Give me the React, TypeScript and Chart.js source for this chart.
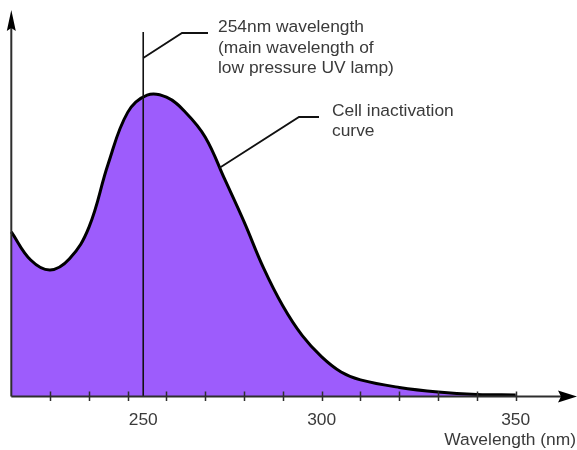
import { useEffect, useRef } from "react";
import { Chart, registerables } from "chart.js";

Chart.register(...registerables);

// Wavelength (nm)
const wavelengths = [220, 225, 230, 235, 240, 245, 250, 255, 260, 265, 270, 275, 280, 285, 290, 295, 300, 305, 310, 320, 330, 340, 350];
// Relative cell inactivation (% of peak)
const inactivation = [54.4, 45.1, 41.8, 45.5, 55.9, 77.0, 93.9, 99.6, 98.9, 93.8, 85.7, 71.8, 57.7, 42.5, 29.9, 20.1, 13.1, 8.1, 5.5, 3.0, 1.5, 0.7, 0.5];

// X-axis tick marks and labels
const tickValues = [230, 240, 250, 260, 270, 280, 290, 300, 310, 320, 330, 340, 350];
const labelPositions = [254, 300, 350];
const labelTexts = ["250", "300", "350"];

const lampWavelength = 254;
const lampText = ["254nm wavelength", "(main wavelength of", "low pressure UV lamp)"];
const curveText = ["Cell inactivation", "curve"];
const curveAnchor = { x: 273.6, y: 75.5 };
const xTitle = "Wavelength (nm)";

const FONT = '17.4px "Liberation Sans", Arial, sans-serif';
const TEXT_COLOR = "#3a3a3a";
const AXIS_COLOR = "#2e2e2e";

const overlay = {
  id: "overlay",
  afterDraw(chart: any) {
    const ctx = chart.ctx as CanvasRenderingContext2D;
    const xs = chart.scales.x;
    const ys = chart.scales.y;
    const ca = chart.chartArea;
    const baseY = ys.getPixelForValue(0);
    const left = ca.left;
    ctx.save();

    // 254nm vertical line
    const lx = xs.getPixelForValue(lampWavelength);
    ctx.strokeStyle = "#111";
    ctx.lineWidth = 1.6;
    ctx.beginPath();
    ctx.moveTo(lx, 32);
    ctx.lineTo(lx, baseY);
    ctx.stroke();

    // leader 1
    ctx.lineWidth = 1.8;
    ctx.beginPath();
    ctx.moveTo(lx, 58);
    ctx.lineTo(182, 33);
    ctx.lineTo(208, 33);
    ctx.stroke();

    // leader 2
    const cx = xs.getPixelForValue(curveAnchor.x);
    const cy = ys.getPixelForValue(curveAnchor.y);
    ctx.beginPath();
    ctx.moveTo(cx, cy);
    ctx.lineTo(299, 117);
    ctx.lineTo(319, 117);
    ctx.stroke();

    // axes
    ctx.strokeStyle = AXIS_COLOR;
    ctx.fillStyle = AXIS_COLOR;
    ctx.lineWidth = 2;
    ctx.beginPath();
    ctx.moveTo(left, baseY);
    ctx.lineTo(566, baseY);
    ctx.moveTo(left, baseY);
    ctx.lineTo(left, 22);
    ctx.stroke();
    // x arrow
    ctx.fillStyle = "#000";
    ctx.beginPath();
    ctx.moveTo(577, baseY);
    ctx.lineTo(558, baseY - 6);
    ctx.lineTo(561, baseY);
    ctx.lineTo(558, baseY + 6);
    ctx.closePath();
    ctx.fill();
    // y arrow
    ctx.beginPath();
    ctx.moveTo(left, 10);
    ctx.lineTo(left - 4.5, 31);
    ctx.lineTo(left, 28);
    ctx.lineTo(left + 4.5, 31);
    ctx.closePath();
    ctx.fill();

    // ticks
    ctx.strokeStyle = AXIS_COLOR;
    ctx.lineWidth = 1.5;
    ctx.beginPath();
    for (const t of tickValues) {
      const px = Math.round(xs.getPixelForValue(t)) + 0.5;
      ctx.moveTo(px, baseY - 5);
      ctx.lineTo(px, baseY + 4.5);
    }
    ctx.stroke();

    // tick labels
    ctx.font = FONT;
    ctx.fillStyle = TEXT_COLOR;
    ctx.textAlign = "center";
    ctx.textBaseline = "alphabetic";
    labelPositions.forEach((v, i) => {
      ctx.fillText(labelTexts[i], xs.getPixelForValue(v), 425);
    });
    ctx.textAlign = "right";
    ctx.fillText(xTitle, 576, 445);

    // annotation text
    ctx.textAlign = "left";
    lampText.forEach((t, i) => ctx.fillText(t, 218, 32 + i * 20.5));
    curveText.forEach((t, i) => ctx.fillText(t, 332, 116 + i * 20));

    ctx.restore();
  },
};

export default function App() {
  const ref = useRef<HTMLCanvasElement>(null);
  useEffect(() => {
    const chart = new Chart(ref.current as HTMLCanvasElement, {
      type: "line",
      data: {
        datasets: [
          {
            data: wavelengths.map((w, i) => ({ x: w, y: inactivation[i] })),
            borderColor: "#000",
            borderWidth: 3,
            backgroundColor: "#9d5cfc",
            fill: "origin",
            pointRadius: 0,
            tension: 0.4,
            clip: false as any,
          },
        ],
      },
      options: {
        animation: false,
        responsive: false,
        devicePixelRatio: 1,
        layout: { padding: { left: 11.3, right: 0, top: 11, bottom: 53.5 } },
        scales: {
          x: { type: "linear", min: 220, max: 365.8, display: false },
          y: { min: 0, max: 127.4, display: false },
        },
        plugins: { legend: { display: false }, tooltip: { enabled: false } },
      },
      plugins: [overlay],
    });
    return () => chart.destroy();
  }, []);
  return (
    <div style={{ position: "absolute", left: 0, top: 0, width: 577, height: 450, background: "#fff" }}>
      <canvas ref={ref} width={577} height={450} style={{ display: "block" }} />
    </div>
  );
}
